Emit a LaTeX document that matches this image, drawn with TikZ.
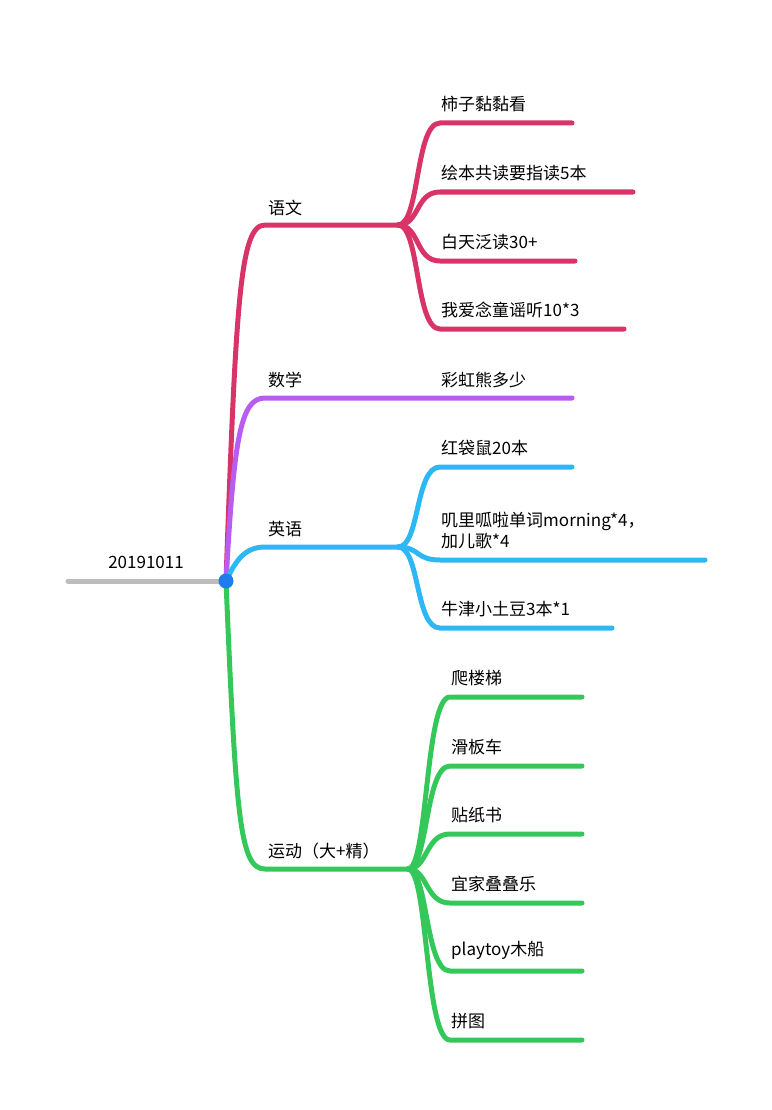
\documentclass[tikz,border=0pt]{standalone}
\usepackage{fontspec}
\setmainfont{Noto Sans CJK SC}
\definecolor{cred}{HTML}{D93468}
\definecolor{cpurple}{HTML}{B95CF2}
\definecolor{cblue}{HTML}{2BB8F5}
\definecolor{cgreen}{HTML}{34C85A}
\definecolor{cgray}{HTML}{BDBDBD}
\definecolor{cdot}{HTML}{1E7BF0}
\tikzset{
  lbl/.style={anchor=south west,inner sep=0pt,font=\fontsize{17}{21}\selectfont},
  br/.style={line width=5pt,line cap=round}
}
\begin{document}
\begin{tikzpicture}[x=1pt,y=-1pt]
\useasboundingbox (0,0) rectangle (771,1110);
% root
\coordinate (root) at (226,581);
\coordinate (rootend) at (68,581);
\draw[br,cgray] (rootend) -- (root);
\node[lbl,anchor=south] (rootlbl) at (146,569) {20191011};
% main branches
\coordinate (yw) at (265,225); \coordinate (ywend) at (398,225);
\coordinate (sx) at (265,398); \coordinate (sxend) at (572,398);
\coordinate (yy) at (265,547); \coordinate (yyend) at (398,547);
\coordinate (yd) at (265,869); \coordinate (ydend) at (408,869);
\draw[br,cred] (root) .. controls (236,300) and (240,225) .. (yw) -- (ywend);
\draw[br,cpurple] (root) .. controls (234,440) and (240,398) .. (sx) -- (sxend);
\draw[br,cblue] (root) .. controls (236,560) and (245,547) .. (yy) -- (yyend);
\draw[br,cgreen] (root) .. controls (236,820) and (240,869) .. (yd) -- (ydend);
\node[lbl] (ywlbl) at (268,216) {语文};
\node[lbl] (sxlbl) at (268,388) {数学};
\node[lbl] (yylbl) at (268,537) {英语};
\node[lbl] (ydlbl) at (268,859) {运动（大+精）};
\node[lbl] (sx1) at (441,388) {彩虹熊多少};
% children
\foreach \y/\e/\t in {123/572/柿子黏黏看,192/633/绘本共读要指读5本,261/575/白天泛读30+,329/624/我爱念童谣听10*3}{
  \draw[br,cred] (ywend) .. controls (420,225) and (415,\y) .. (440,\y) -- (\e,\y);
  \node[lbl] at (441,\y-11) {\t};
}
\foreach \y/\e in {467/572,560/705,628/612}{
  \draw[br,cblue] (yyend) .. controls (420,547) and (415,\y) .. (440,\y) -- (\e,\y);
}
\node[lbl] (yy1) at (441,456) {红袋鼠20本};
\node[lbl,align=left,anchor=south west] (yy2) at (441,549) {叽里呱啦单词morning*4，\\加儿歌*4};
\node[lbl] (yy3) at (441,617) {牛津小土豆3本*1};
\foreach \y/\t in {697/爬楼梯,766/滑板车,834/贴纸书,903/宜家叠叠乐,971/playtoy木船,1040/拼图}{
  \draw[br,cgreen] (ydend) .. controls (428,869) and (425,\y) .. (450,\y) -- (582,\y);
  \node[lbl] at (451,\y-11) {\t};
}
\fill[cdot] (root) circle (7.5);
\end{tikzpicture}
\end{document}
